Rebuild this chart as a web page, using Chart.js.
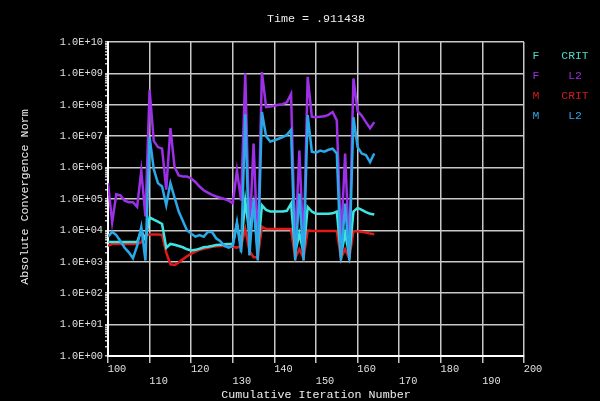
<!DOCTYPE html>
<html>
<head>
<meta charset="utf-8">
<script src="https://cdn.jsdelivr.net/npm/chart.js@4.4.1/dist/chart.umd.min.js"></script>
<style>
    html, body { margin: 0; padding: 0; background: #000; }
    #divConvergencia { width: 600px; height: 401px; }
</style>
</head>
<body>
<div id="divConvergencia"><canvas id="canvaConvergencia" width="600" height="401"></canvas></div>
<script>
// valores (iteracion acumulada 100..164)
const iteraciones = [
    100, 101, 102, 103, 104, 105, 106, 107, 108, 109,
    110, 111, 112, 113, 114, 115, 116, 117, 118, 119,
    120, 121, 122, 123, 124, 125, 126, 127, 128, 129,
    130, 131, 132, 133, 134, 135, 136, 137, 138, 139,
    140, 141, 142, 143, 144, 145, 146, 147, 148, 149,
    150, 151, 152, 153, 154, 155, 156, 157, 158, 159,
    160, 161, 162, 163, 164
];
const fuerzaCrit = [
    4.3e3, 4.3e3, 4.3e3, 4.3e3, 4.3e3, 4.3e3, 4.3e3, 4.3e3, 1.0e4, 5.0e3,
    2.6e4, 2.2e4, 1.9e4, 1.6e4, 2.8e3, 3.7e3, 3.5e3, 3.2e3, 2.9e3, 2.5e3,
    2.3e3, 2.4e3, 2.6e3, 2.9e3, 3.0e3, 3.2e3, 3.4e3, 3.5e3, 3.6e3, 3.7e3,
    3.7e3, 1.6e4, 3.2e3, 8.9e4, 7.9e3, 6.3e4, 2.2e3, 6.3e4, 4.5e4, 4.0e4,
    4.0e4, 4.0e4, 4.0e4, 4.2e4, 7.1e4, 2.0e3, 7.9e3, 2.0e3, 5.6e4, 4.0e4,
    3.4e4, 3.4e4, 3.4e4, 3.4e4, 3.5e4, 4.0e4, 1.6e3, 7.9e3, 1.6e3, 4.0e4,
    5.2e4, 4.5e4, 3.8e4, 3.4e4, 3.2e4
];
const fuerzaL2 = [
    3.2e5, 1.8e4, 1.4e5, 1.3e5, 8.9e4, 7.9e4, 7.9e4, 5.6e4, 7.9e5, 2.8e4,
    3.0e8, 7.1e6, 4.5e6, 4.0e6, 2.0e5, 1.8e7, 1.05e6, 5.6e5, 5.2e5, 5.2e5,
    4.5e5, 3.5e5, 2.5e5, 1.9e5, 1.6e5, 1.35e5, 1.2e5, 1.1e5, 1.0e5, 8.9e4,
    7.4e4, 8.1e5, 8.9e4, 1.0e9, 5.9e3, 5.8e6, 2.2e3, 1.1e9, 8.5e7, 8.9e7,
    9.3e7, 1.0e8, 1.05e8, 1.2e8, 2.2e8, 2.8e3, 3.5e6, 2.2e3, 7.8e8, 4.2e7,
    4.0e7, 4.2e7, 4.3e7, 4.8e7, 5.9e7, 3.2e7, 4.5e3, 2.8e6, 1.8e3, 6.9e8,
    6.3e7, 4.5e7, 2.8e7, 1.8e7, 2.8e7
];
const momentoCrit = [
    3.2e3, 3.7e3, 3.7e3, 3.7e3, 3.7e3, 3.7e3, 3.7e3, 3.7e3, 4.2e3, 7.1e3,
    7.4e3, 7.4e3, 7.4e3, 7.2e3, 2.0e3, 8.3e2, 7.9e2, 9.5e2, 1.2e3, 1.5e3,
    1.8e3, 2.1e3, 2.4e3, 2.6e3, 2.8e3, 3.0e3, 3.1e3, 3.2e3, 3.2e3, 3.1e3,
    3.0e3, 2.8e3, 3.2e3, 1.1e4, 2.2e3, 1.4e3, 1.4e3, 1.3e4, 1.1e4, 1.1e4,
    1.1e4, 1.1e4, 1.1e4, 1.1e4, 1.1e4, 1.3e3, 2.5e3, 1.3e3, 1.0e4, 9.5e3,
    9.5e3, 9.5e3, 9.5e3, 9.5e3, 9.5e3, 9.5e3, 1.3e3, 2.5e3, 1.3e3, 9.5e3,
    9.3e3, 9.1e3, 8.5e3, 7.9e3, 7.6e3
];
const momentoL2 = [
    6.3e3, 8.9e3, 7.1e3, 4.5e3, 2.8e3, 2.0e3, 1.3e3, 3.2e3, 1.3e4, 1.1e3,
    9.3e6, 8.9e5, 3.2e5, 2.5e5, 6.3e4, 3.2e5, 1.1e5, 4.0e4, 2.0e4, 1.0e4,
    7.9e3, 6.3e3, 7.1e3, 6.3e3, 8.9e3, 8.9e3, 5.6e3, 4.5e3, 3.2e3, 2.8e3,
    3.2e3, 1.8e4, 2.0e3, 5.0e7, 1.6e3, 1.0e5, 1.1e3, 5.9e7, 1.0e7, 6.8e6,
    7.4e6, 8.3e6, 9.3e6, 1.1e7, 1.6e7, 1.1e3, 1.5e5, 1.1e3, 4.7e7, 3.2e6,
    3.0e6, 3.5e6, 3.2e6, 3.7e6, 4.0e6, 2.8e6, 1.1e3, 7.1e4, 1.1e3, 4.0e7,
    4.5e6, 2.8e6, 2.5e6, 1.5e6, 2.8e6
];

const tituloTiempo = 'Time = .911438';
const tituloEjeX = 'Cumulative Iteration Number';
const tituloEjeY = 'Absolute Convergence Norm';
const leyendaVariable = ['F', 'F', 'M', 'M'];
const leyendaCriterio = ['CRIT', 'L2', 'CRIT', 'L2'];
const leyendaColores = ['#4fd8c8', '#9a2ee0', '#d01c1c', '#34a2e2'];

const fuenteMono = '"Liberation Mono", "DejaVu Sans Mono", monospace';

function puntos(valores) {
    return iteraciones.map((it, i) => ({ x: it, y: valores[i] }));
}

function esMayor(valor) {
    const e = Math.log10(valor);
    return Math.abs(e - Math.round(e)) < 1e-9;
}

const textosPlugin = {
    id: 'textosConvergencia',
    beforeDraw(chart) {
        const ctx = chart.ctx;
        ctx.save();
        ctx.fillStyle = '#000000';
        ctx.fillRect(0, 0, chart.width, chart.height);
        ctx.restore();
    },
    afterDraw(chart) {
        const ctx = chart.ctx;
        const area = chart.chartArea;
        const centroX = (area.left + area.right) / 2;
        ctx.save();
        ctx.fillStyle = '#eeeeee';
        ctx.font = '11.7px ' + fuenteMono;
        ctx.textAlign = 'center';
        ctx.textBaseline = 'middle';
        ctx.fillText(tituloTiempo, centroX, 19);
        ctx.fillText(tituloEjeX, centroX, 395);

        ctx.save();
        ctx.translate(25, (area.top + area.bottom) / 2 - 2);
        ctx.rotate(-Math.PI / 2);
        ctx.fillText(tituloEjeY, 0, 0);
        ctx.restore();

        // leyenda a la derecha
        ctx.font = '11.4px ' + fuenteMono;
        for (let i = 0; i < leyendaVariable.length; i++) {
            const y = 56 + i * 20;
            ctx.fillStyle = leyendaColores[i];
            ctx.fillText(leyendaVariable[i], 536, y);
            ctx.fillText(leyendaCriterio[i], 575, y);
        }
        ctx.restore();
    }
};

new Chart(document.getElementById('canvaConvergencia'), {
    type: 'line',
    plugins: [textosPlugin],
    data: {
        datasets: [
            {
                label: 'M L2',
                data: puntos(momentoL2),
                borderColor: '#2aa8e8',
                backgroundColor: '#2aa8e8'
            }, {
                label: 'F CRIT',
                data: puntos(fuerzaCrit),
                borderColor: '#40e4e0',
                backgroundColor: '#40e4e0'
            }, {
                label: 'M CRIT',
                data: puntos(momentoCrit),
                borderColor: '#e01a1a',
                backgroundColor: '#e01a1a'
            }, {
                label: 'F L2',
                data: puntos(fuerzaL2),
                borderColor: '#9b30e6',
                backgroundColor: '#9b30e6'
            }
        ]
    },
    options: {
        responsive: false,
        animation: false,
        devicePixelRatio: 1,
        layout: {
            padding: { top: 42, right: 76, left: 0, bottom: 0 }
        },
        elements: {
            point: { radius: 0 },
            line: { borderWidth: 2.5, tension: 0 }
        },
        plugins: {
            legend: { display: false },
            tooltip: { enabled: false },
            title: { display: false }
        },
        scales: {
            x: {
                type: 'linear',
                min: 100,
                max: 200,
                afterFit: function (scale) {
                    scale.height = 45;
                },
                ticks: {
                    stepSize: 10,
                    autoSkip: false,
                    maxRotation: 0,
                    labelOffset: 9,
                    padding: 0,
                    color: '#e0e0e0',
                    font: { family: fuenteMono, size: 10.3 },
                    callback: function (value, index) {
                        return index % 2 == 0 ? [String(value), ''] : ['', String(value)];
                    }
                },
                grid: {
                    color: '#c8c8c8',
                    lineWidth: 1.5,
                    tickLength: 7,
                    tickColor: '#c8c8c8'
                },
                border: { color: '#ffffff', width: 2 }
            },
            y: {
                type: 'logarithmic',
                min: 1,
                max: 1e10,
                afterFit: function (scale) {
                    scale.width = 108;
                },
                afterBuildTicks: function (scale) {
                    const lista = [];
                    for (let e = 0; e <= 10; e++) {
                        for (let m = 1; m <= 9; m++) {
                            if (e == 10 && m > 1) break;
                            lista.push({ value: m * Math.pow(10, e), major: m == 1 });
                        }
                    }
                    scale.ticks = lista;
                },
                ticks: {
                    autoSkip: false,
                    padding: 2,
                    color: '#e0e0e0',
                    font: { family: fuenteMono, size: 10.3 },
                    callback: function (value) {
                        if (!esMayor(value)) return '';
                        const e = Math.round(Math.log10(value));
                        return '1.0E+' + (e < 10 ? '0' + e : e);
                    }
                },
                grid: {
                    color: function (context) {
                        return context.tick && context.tick.major ? '#c8c8c8' : 'rgba(0,0,0,0)';
                    },
                    lineWidth: 1.5,
                    tickLength: 3,
                    tickColor: '#c8c8c8'
                },
                border: { color: '#ffffff', width: 2 }
            }
        }
    }
});
</script>
</body>
</html>
